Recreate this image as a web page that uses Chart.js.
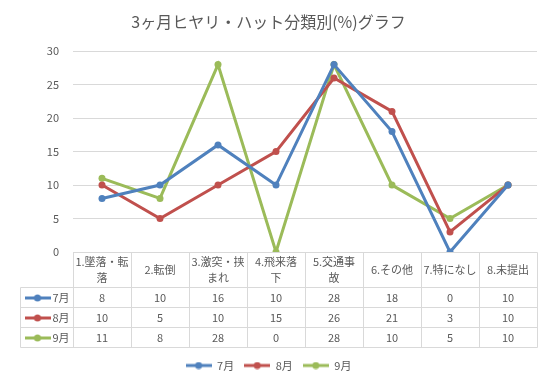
<!DOCTYPE html>
<html>
<head>
<meta charset="utf-8">
<script src="https://cdn.jsdelivr.net/npm/chart.js@4.4.1/dist/chart.umd.min.js"></script>
<style>
  body { margin: 0; background: #fff; }
  #wrap { width: 550px; height: 385px; }
</style>
</head>
<body>
<div id="wrap"><canvas id="hiyariChart"></canvas></div>
<script>
// categories (already split into the two lines used in the table header)
const categories = [['1.墜落・転', '落'], ['2.転倒'], ['3.激突・挟', 'まれ'], ['4.飛来落', '下'], ['5.交通事', '故'], ['6.その他'], ['7.特になし'], ['8.未提出']];
const july = [8, 10, 16, 10, 28, 18, 0, 10];
const august = [10, 5, 10, 15, 26, 21, 3, 10];
const september = [11, 8, 28, 0, 28, 10, 5, 10];
const seriesNames = ['7月', '8月', '9月'];
const seriesColors = ['#4f81bd', '#c0504d', '#9bbb59'];
const yTicks = [0, 5, 10, 15, 20, 25, 30];

const FONT = '"Noto Sans CJK JP", "Noto Sans", sans-serif';
const TEXT = '#595959';
const BORDER = '#d9d9d9';

// little "line + dot" key, like the Excel legend
function lineKey(color) {
  const c = document.createElement('canvas');
  c.width = 26; c.height = 8;
  const g = c.getContext('2d');
  g.strokeStyle = color; g.lineWidth = 3;
  g.beginPath(); g.moveTo(0, 4); g.lineTo(26, 4); g.stroke();
  g.fillStyle = color;
  g.beginPath(); g.arc(13, 4, 3.5, 0, Math.PI * 2); g.fill();
  return c;
}

// data table under the plot, drawn in the space of the x axis
const dataTable = {
  id: 'dataTable',
  afterDraw(chart) {
    const { ctx, chartArea } = chart;
    const x = chart.scales.x;
    const n = categories.length;
    const cellW = (chartArea.right - chartArea.left) / n;
    const headH = 35, rowH = 20, keyW = 53;
    const top = Math.round(chartArea.bottom) + 0.5;
    const left = Math.round(chartArea.left) - keyW + 0.5;
    const right = Math.round(chartArea.right) + 0.5;
    const sets = chart.data.datasets;
    const bottom = top + headH + rowH * sets.length;

    ctx.save();
    ctx.strokeStyle = BORDER;
    ctx.lineWidth = 1;
    ctx.beginPath();
    ctx.moveTo(Math.round(chartArea.left) + 0.5, top); ctx.lineTo(right, top);
    for (let r = 0; r <= sets.length; r++) {
      const y = top + headH + r * rowH;
      ctx.moveTo(left, y); ctx.lineTo(right, y);
    }
    ctx.moveTo(left, top + headH); ctx.lineTo(left, bottom);
    for (let i = 0; i <= n; i++) {
      const xx = Math.round(chartArea.left + i * cellW) + 0.5;
      ctx.moveTo(xx, top); ctx.lineTo(xx, bottom);
    }
    ctx.stroke();

    ctx.fillStyle = TEXT;
    ctx.font = '11px ' + FONT;
    ctx.textAlign = 'center';
    ctx.textBaseline = 'middle';
    categories.forEach((lines, i) => {
      const cx = x.getPixelForValue(i);
      const cy = top + headH / 2;
      lines.forEach((t, j) => {
        ctx.fillText(t, cx, cy + (j - (lines.length - 1) / 2) * 16);
      });
    });

    sets.forEach((ds, r) => {
      const cy = top + headH + rowH * (r + 0.5);
      ctx.drawImage(lineKey(ds.borderColor), left + 4, Math.round(cy) - 4);
      ctx.textAlign = 'left';
      ctx.fillText(ds.label, left + 32, cy);
      ctx.textAlign = 'center';
      ds.data.forEach((v, i) => {
        ctx.fillText(String(v), x.getPixelForValue(i), cy);
      });
    });
    ctx.restore();
  }
};

const ctx = document.getElementById('hiyariChart').getContext('2d');
const hiyariChart = new Chart(ctx, {
  type: 'line',
  data: {
    labels: categories,
    datasets: [july, august, september].map((values, i) => ({
      label: seriesNames[i],
      data: values,
      borderColor: seriesColors[i],
      backgroundColor: seriesColors[i],
      pointBackgroundColor: seriesColors[i],
      pointBorderColor: seriesColors[i],
      borderWidth: 3,
      pointRadius: 3.5,
      pointBorderWidth: 0,
      tension: 0,
    })),
  },
  options: {
    responsive: true,
    maintainAspectRatio: false,
    animation: false,
    layout: {
      padding: { left: 0, right: 13, top: 0, bottom: 4 },
    },
    plugins: {
      title: {
        display: true,
        text: '3ヶ月ヒヤリ・ハット分類別(%)グラフ',
        color: TEXT,
        font: { family: FONT, size: 16, weight: 'normal' },
        padding: { top: 12, bottom: 20 },
      },
      legend: {
        position: 'bottom',
        labels: {
          color: TEXT,
          font: { family: FONT, size: 11 },
          usePointStyle: true,
          pointStyleWidth: 26,
          generateLabels(chart) {
            return chart.data.datasets.map((ds, i) => ({
              text: ds.label,
              fontColor: TEXT,
              pointStyle: lineKey(ds.borderColor),
              datasetIndex: i,
              hidden: false,
              lineWidth: 0,
            }));
          },
        },
      },
      tooltip: { enabled: false },
    },
    scales: {
      x: {
        offset: true,
        ticks: { display: false },
        grid: { display: false },
        border: { display: false },
        afterFit(scale) { scale.height = 98; },
      },
      y: {
        min: yTicks[0],
        max: yTicks[yTicks.length - 1],
        ticks: {
          stepSize: yTicks[1] - yTicks[0],
          color: TEXT,
          font: { family: FONT, size: 11 },
          padding: 14,
        },
        grid: { color: BORDER, drawTicks: false },
        border: { display: false },
        afterFit(scale) { scale.width = 73; },
      },
    },
  },
  plugins: [dataTable],
});
</script>
</body>
</html>
